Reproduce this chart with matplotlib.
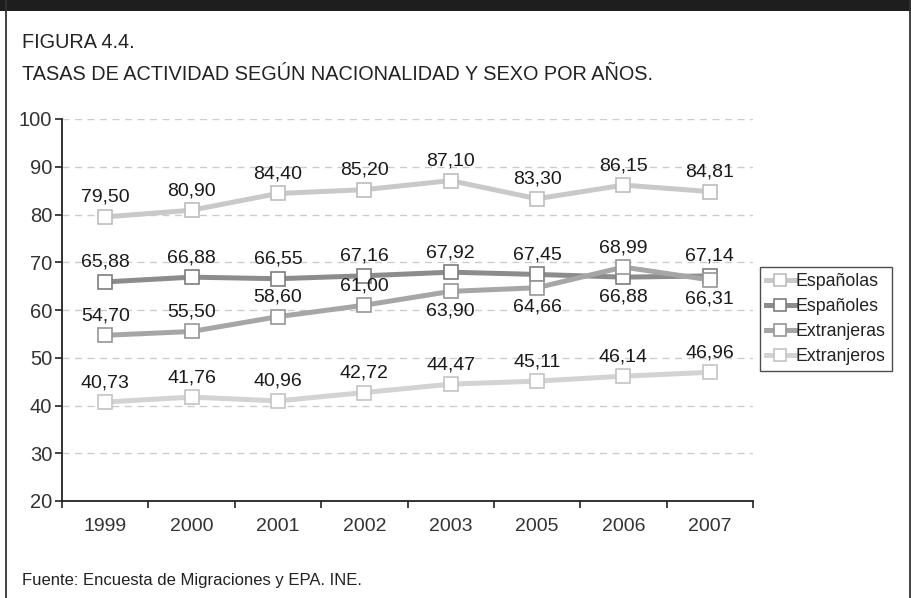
import matplotlib.pyplot as plt
from matplotlib.lines import Line2D
from matplotlib.patches import Rectangle
import numpy as np

plt.rcParams['font.family'] = ['Liberation Sans', 'DejaVu Sans']

years = ['1999', '2000', '2001', '2002', '2003', '2005', '2006', '2007']
espanolas = [79.50, 80.90, 84.40, 85.20, 87.10, 83.30, 86.15, 84.81]
espanoles = [65.88, 66.88, 66.55, 67.16, 67.92, 67.45, 66.88, 67.14]
extranjeras = [54.70, 55.50, 58.60, 61.00, 63.90, 64.66, 68.99, 66.31]
extranjeros = [40.73, 41.76, 40.96, 42.72, 44.47, 45.11, 46.14, 46.96]

names = ['Españolas', 'Españoles', 'Extranjeras', 'Extranjeros']
series = [espanolas, espanoles, extranjeras, extranjeros]
line_colors = ['#c9c9c9', '#8c8c8c', '#a6a6a6', '#d3d3d3']
edge_colors = ['#bdbdbd', '#7d7d7d', '#969696', '#c4c4c4']
# labels placed below the point (series index, point index)
below = {(2, 4), (2, 5), (1, 6), (2, 7)}

W, H = 912, 598
fig = plt.figure(figsize=(W / 100, H / 100), dpi=100)

# frame and top bar
fig.add_artist(Rectangle((0, 1 - 11 / H), 1, 11 / H, transform=fig.transFigure,
                         color='#1e1e1e', lw=0))
fig.add_artist(Line2D([6 / W, 6 / W], [0, 1], transform=fig.transFigure,
                      color='#333333', lw=1.3))
fig.add_artist(Line2D([910 / W, 910 / W], [0, 1], transform=fig.transFigure,
                      color='#333333', lw=1.3))

fig.text(22 / W, 1 - 43 / H, 'FIGURA 4.4.', fontsize=14.3, va='center',
         color='#222222')
fig.text(22 / W, 1 - 75 / H, 'TASAS DE ACTIVIDAD SEGÚN NACIONALIDAD Y SEXO POR AÑOS.',
         fontsize=14.3, va='center', color='#222222')
fig.text(22 / W, 1 - 580 / H, 'Fuente: Encuesta de Migraciones y EPA. INE.',
         fontsize=12, va='center', color='#222222')

ax = fig.add_axes([62 / W, 1 - 501 / H, (753 - 62) / W, (501 - 119) / H])
x = np.arange(len(years))

handles = []
for i, (vals, name) in enumerate(zip(series, names)):
    h, = ax.plot(x, vals, color=line_colors[i], lw=3.6, marker='s', markersize=10,
                 markerfacecolor='white', markeredgecolor=edge_colors[i],
                 markeredgewidth=1.2, label=name, zorder=3)
    handles.append(h)
    for j, v in enumerate(vals):
        dy = -14 if (i, j) in below else 14
        ax.annotate(f'{v:.2f}'.replace('.', ','), (x[j], v), xytext=(0, dy),
                    textcoords='offset points', ha='center', va='center',
                    fontsize=14, color='#1a1a1a', zorder=4)

ax.set_ylim(20, 100)
ax.set_xlim(-0.5, len(years) - 0.5)
ax.set_yticks(range(20, 101, 10))
ax.yaxis.grid(True, color='#cccccc', linestyle=(0, (5, 4)), lw=1)
ax.set_axisbelow(True)

ax.set_xticks(np.arange(-0.5, len(years), 1))
ax.set_xticklabels([])
ax.set_xticks(x, minor=True)
ax.set_xticklabels(years, minor=True)
ax.tick_params(axis='x', which='major', direction='out', length=5, width=1.2,
               color='#222222')
ax.tick_params(axis='x', which='minor', length=0, pad=12, labelsize=14,
               labelcolor='#333333')
ax.tick_params(axis='y', direction='out', length=5, width=1.2, color='#222222',
               pad=2, labelsize=14.5, labelcolor='#333333')

for s in ['top', 'right']:
    ax.spines[s].set_visible(False)
for s in ['left', 'bottom']:
    ax.spines[s].set_color('#222222')
    ax.spines[s].set_linewidth(1.3)

leg = fig.legend(handles=handles, loc='upper left',
                 bbox_to_anchor=(760 / W, 1 - 267 / H), fontsize=12.8,
                 frameon=True, fancybox=False, handlelength=1.6,
                 handletextpad=0.05, borderpad=0.35, labelspacing=0.45,
                 borderaxespad=0, markerscale=0.8)
leg.get_frame().set_edgecolor('#222222')
leg.get_frame().set_linewidth(1.0)
for t in leg.get_texts():
    t.set_color('#222222')

fig.savefig('out.png', dpi=100)
